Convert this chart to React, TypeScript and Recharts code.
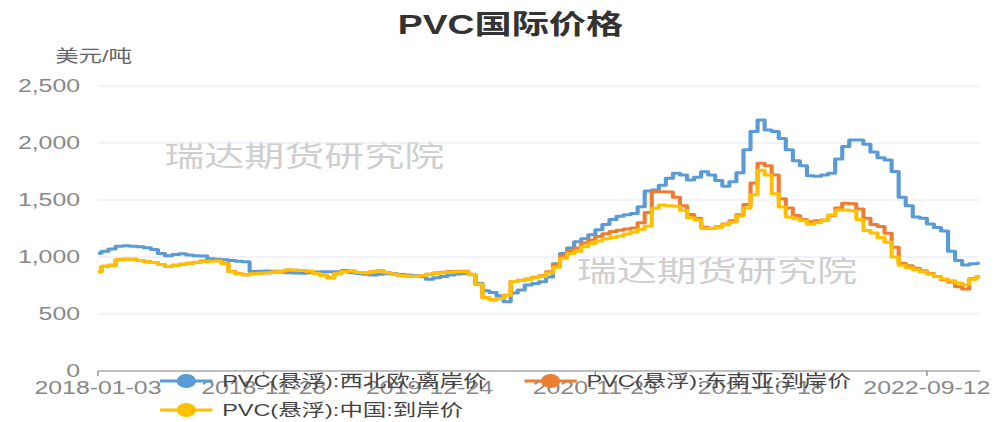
import React from 'react';
import { LineChart, Line, XAxis, YAxis, CartesianGrid } from 'recharts';

// week index step between samples (biweekly readings)
const WEEK_STEP = 2;

const tickWeeks = [0, 47, 94, 141, 188, 235];
const tickLabels = ['2018-01-03', '2018-11-28', '2019-12-24', '2020-11-23', '2021-10-18', '2022-09-12'];
const yTicks = [0, 500, 1000, 1500, 2000, 2500];

const seriesNames = ['PVC(悬浮):西北欧:离岸价', 'PVC(悬浮):东南亚:到岸价', 'PVC(悬浮):中国:到岸价'];

const nwEurope = [
  1032, 1050, 1070, 1095, 1098, 1095, 1090, 1082, 1065, 1030,
  1012, 1022, 1028, 1018, 1012, 1009, 985, 980, 975, 970,
  963, 958, 872, 875, 878, 875, 868, 862, 860, 857,
  862, 868, 871, 871, 871, 882, 865, 855, 848, 842,
  848, 855, 852, 847, 842, 835, 827, 805, 818, 830,
  842, 851, 855, 845, 770, 705, 688, 660, 608, 685,
  710, 754, 768, 783, 825, 940, 1030, 1080, 1134, 1160,
  1195, 1240, 1285, 1330, 1358, 1370, 1382, 1440, 1578, 1588,
  1630, 1690, 1734, 1720, 1675, 1700, 1748, 1720, 1670, 1620,
  1660, 1740, 1940, 2100, 2202, 2114, 2100, 2040, 1940, 1845,
  1800, 1712, 1708, 1719, 1734, 1860, 1970, 2026, 2026, 1990,
  1920, 1870, 1851, 1750, 1525, 1450, 1350, 1340, 1290, 1258,
  1228, 1050, 970, 930, 940, 945,
];

const seAsia = [
  871, 918, 928, 975, 980, 980, 970, 959, 952, 935,
  916, 928, 936, 945, 955, 965, 970, 972, 945, 872,
  852, 845, 853, 858, 861, 868, 876, 885, 884, 881,
  875, 857, 840, 818, 858, 872, 878, 864, 860, 870,
  880, 864, 848, 838, 833, 828, 835, 848, 860, 866,
  872, 876, 875, 848, 760, 642, 625, 635, 664, 785,
  795, 808, 822, 835, 870, 935, 1010, 1055, 1080, 1122,
  1150, 1180, 1205, 1224, 1235, 1245, 1255, 1300, 1390, 1573,
  1573, 1570, 1525, 1450, 1372, 1340, 1262, 1251, 1265, 1290,
  1318, 1370, 1460, 1650, 1822, 1800, 1719, 1510, 1430, 1365,
  1330, 1310, 1318, 1325, 1365, 1430, 1471, 1468, 1420, 1340,
  1285, 1268, 1208, 1085, 945, 924, 902, 880, 856, 830,
  800, 780, 740, 720, 810, 827,
];

const china = [
  871, 918, 928, 975, 980, 980, 970, 959, 952, 935,
  916, 928, 936, 945, 952, 959, 962, 966, 940, 870,
  852, 845, 853, 858, 861, 868, 876, 885, 884, 881,
  875, 855, 838, 815, 858, 872, 878, 864, 860, 870,
  880, 864, 848, 838, 833, 828, 835, 848, 857, 862,
  867, 871, 871, 846, 760, 642, 625, 635, 664, 785,
  793, 805, 818, 830, 860, 910, 990, 1030, 1050, 1090,
  1118, 1140, 1160, 1170, 1182, 1202, 1220, 1243, 1270, 1427,
  1456, 1450, 1445, 1410, 1345, 1326, 1251, 1251, 1262, 1282,
  1305, 1360, 1430, 1545, 1760, 1720, 1555, 1438, 1350, 1336,
  1318, 1287, 1300, 1320, 1368, 1412, 1412, 1405, 1330, 1232,
  1210, 1170, 1130, 1000, 928, 905, 889, 870, 848, 826,
  808, 792, 772, 756, 805, 827,
];

const colors = ['#5B9BD5', '#ED7D31', '#FFC000'];

const rows = nwEurope.map((v, i) => ({
  w: i * WEEK_STEP,
  a: v,
  b: seAsia[i],
  c: china[i],
}));

const S = 1.38;
const W = 726;
const H = 422;
const FONT = "'Liberation Sans', 'Noto Sans CJK SC', sans-serif";

const LegendItem = ({ x, y, color, label }: { x: number; y: number; color: string; label: string }) => (
  <g>
    <line x1={x} x2={x + 38} y1={y} y2={y} stroke={color} strokeWidth={3} />
    <circle cx={x + 19} cy={y} r={7} fill={color} />
    <text x={x + 45} y={y} dominantBaseline="central" fontSize={17} fill="#444" fontFamily={FONT}>
      {label}
    </text>
  </g>
);

export default function App() {
  return (
    <div
      style={{
        position: 'absolute',
        left: 0,
        top: 0,
        width: W,
        height: H,
        transform: `scale(${S}, 1)`,
        transformOrigin: '0 0',
        background: '#fff',
      }}
    >
      <svg width={W} height={H} style={{ position: 'absolute', left: 0, top: 0 }}>
        <text x={370} y={25} textAnchor="middle" dominantBaseline="central" fontSize={27} fontWeight="bold" fill="#333" fontFamily={FONT}>
          PVC国际价格
        </text>
        <text x={40} y={56} dominantBaseline="central" fontSize={17} fill="#666" fontFamily={FONT}>
          美元/吨
        </text>
        <text x={119} y={157} dominantBaseline="central" fontSize={29} fill="#cfcfcf" fontFamily={FONT}>
          瑞达期货研究院
        </text>
        <text x={418} y={272} dominantBaseline="central" fontSize={29} fill="#cfcfcf" fontFamily={FONT}>
          瑞达期货研究院
        </text>
      </svg>
      <div style={{ position: 'absolute', left: 0, top: 0 }}>
        <LineChart width={W} height={H} data={rows} margin={{ top: 86, right: 16, bottom: 21, left: 0 }}>
          <CartesianGrid vertical={false} stroke="#e3e8f2" />
          <XAxis
            type="number"
            dataKey="w"
            domain={[0, 250]}
            ticks={tickWeeks}
            interval={0}
            tickFormatter={(v: number) => tickLabels[tickWeeks.indexOf(v)] ?? ''}
            stroke="#8c8c8c"
            tickSize={5}
            tickMargin={5}
            height={30}
            tick={{ fontSize: 18, fill: '#888', fontFamily: FONT }}
          />
          <YAxis
            domain={[0, 2500]}
            ticks={yTicks}
            width={71}
            axisLine={false}
            tickLine={false}
            tickSize={0}
            tickMargin={13}
            tickFormatter={(v: number) => v.toLocaleString('en-US')}
            tick={{ fontSize: 18, fill: '#888', fontFamily: FONT }}
          />
          <Line type="step" dataKey="a" name={seriesNames[0]} stroke={colors[0]} strokeWidth={3} strokeLinejoin="round" dot={false} isAnimationActive={false} />
          <Line type="step" dataKey="b" name={seriesNames[1]} stroke={colors[1]} strokeWidth={3} strokeLinejoin="round" dot={false} isAnimationActive={false} />
          <Line type="step" dataKey="c" name={seriesNames[2]} stroke={colors[2]} strokeWidth={3} strokeLinejoin="round" dot={false} isAnimationActive={false} />
        </LineChart>
      </div>
      <svg width={W} height={H} style={{ position: 'absolute', left: 0, top: 0, pointerEvents: 'none' }}>
        <LegendItem x={116} y={381} color={colors[0]} label={seriesNames[0]} />
        <LegendItem x={380} y={381} color={colors[1]} label={seriesNames[1]} />
        <LegendItem x={116} y={410} color={colors[2]} label={seriesNames[2]} />
      </svg>
    </div>
  );
}
